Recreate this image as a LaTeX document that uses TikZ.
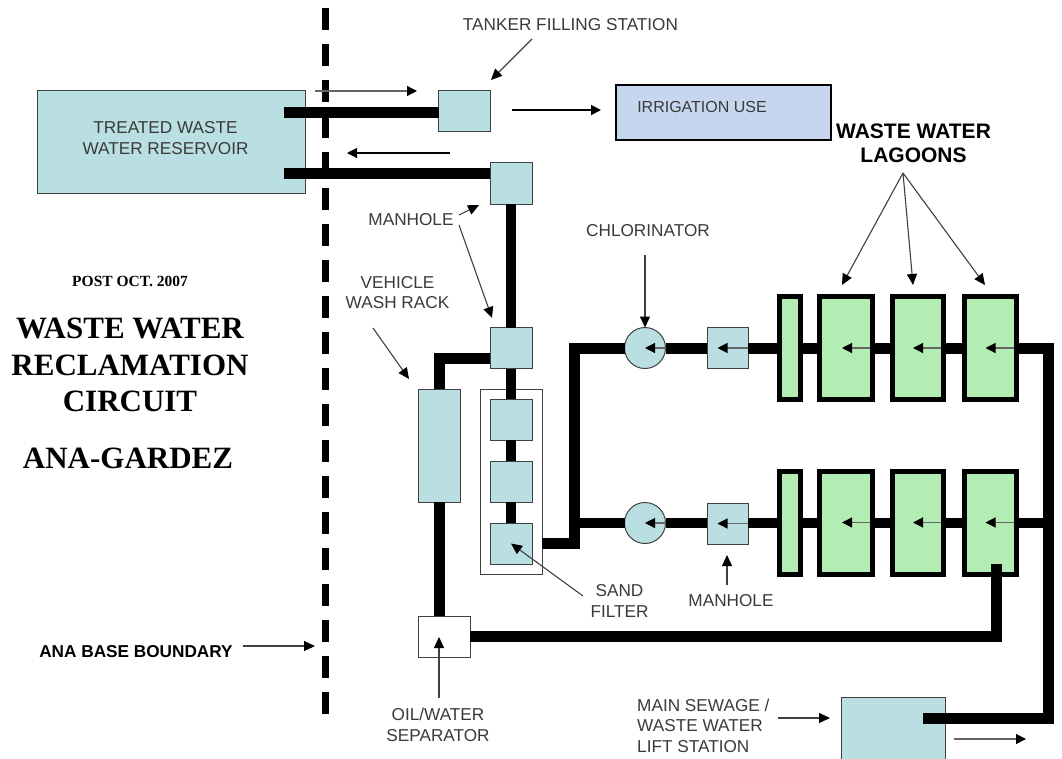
\documentclass[tikz,border=0pt]{standalone}
\usepackage{fontspec}
\setmainfont{Liberation Sans}
\newfontfamily\titlefont{Liberation Serif}
\usetikzlibrary{arrows.meta,calc}
\definecolor{tankfill}{HTML}{B9DFE2}
\definecolor{lagoonfill}{HTML}{B3EDB3}
\definecolor{irrigfill}{HTML}{C5D6EE}
\definecolor{labelgray}{HTML}{3A3A3A}
\tikzset{
  tank/.style={draw=black!75,line width=1pt,fill=tankfill,outer sep=0pt,inner sep=0pt},
  lagoon/.style={draw=black,line width=5pt,fill=lagoonfill,outer sep=0pt,inner sep=0pt,minimum height=103pt},
  pipe/.style={line width=11pt,black,line cap=butt,line join=miter},
  thinpipe/.style={line width=9.5pt,black,line cap=butt},
  flow/.style={line width=1.2pt,black!60,-{Triangle[length=10pt,width=10pt,black]}},
  callout/.style={line width=1.1pt,black!75,-{Triangle[length=11pt,width=10pt,black]}},
  lbl/.style={font=\fontsize{17.2}{20.5}\selectfont,text=labelgray,align=center,inner sep=0pt},
  bigtitle/.style={font=\fontsize{31}{36.3}\titlefont\bfseries,align=center,inner sep=0pt}
}
\begin{document}
\begin{tikzpicture}[x=1pt,y=-1pt]
  \useasboundingbox (0,0) rectangle (1062,758);
  \clip (0,0) rectangle (1062,758);
  \fill[white] (0,0) rectangle (1062,758);
  % boundary
  \draw[line width=7pt,black,dash pattern=on 22pt off 14pt] (325,8) -- (325,714);
  % tanks and boxes
  \node[tank,minimum width=268pt,minimum height=103pt] (reservoir) at (171,141.5) {};
  \node[tank,minimum width=52pt,minimum height=41.5pt] (tanker) at (464.5,111) {};
  \node[draw=black,line width=1.5pt,fill=irrigfill,minimum width=215pt,minimum height=55pt,outer sep=0pt] (irrigation) at (723.5,112.5) {};
  \node[tank,minimum width=42pt,minimum height=42pt] (mhTop) at (511,183) {};
  \node[tank,minimum width=42pt,minimum height=41pt] (mhMid) at (511,348) {};
  \node[draw=black!75,line width=0.7pt,fill=white,minimum width=62pt,minimum height=185pt,outer sep=0pt] (filterframe) at (511,481.5) {};
  \node[tank,minimum width=42pt,minimum height=41pt] (filterA) at (511,419.5) {};
  \node[tank,minimum width=42pt,minimum height=41pt] (filterB) at (511,481.5) {};
  \node[tank,minimum width=42pt,minimum height=41pt] (filterC) at (511,543.5) {};
  \node[tank,minimum width=42pt,minimum height=113pt] (washrack) at (439,445.5) {};
  \node[draw=black!75,line width=1pt,fill=white,minimum width=52pt,minimum height=41pt,outer sep=0pt] (separator) at (444,636.5) {};
  \node[tank,circle,minimum size=41pt] (chlorA) at (645,348) {};
  \node[tank,circle,minimum size=41pt] (chlorB) at (645,523) {};
  \node[tank,minimum width=41pt,minimum height=41pt] (mhA) at (727.5,348) {};
  \node[tank,minimum width=41pt,minimum height=41pt] (mhB) at (727.5,523.5) {};
  \node[tank,minimum width=104pt,minimum height=70pt] (liftstation) at (893,732) {};
  % lagoons
  \node[lagoon,minimum width=21pt] (pondA) at (789.5,348) {};
  \node[lagoon,minimum width=53pt] (lagoonA) at (846,348) {};
  \node[lagoon,minimum width=51pt] (lagoonB) at (918,348) {};
  \node[lagoon,minimum width=52pt] (lagoonC) at (990.5,348) {};
  \node[lagoon,minimum width=21pt] (pondB) at (789.5,522.5) {};
  \node[lagoon,minimum width=53pt] (lagoonD) at (846,522.5) {};
  \node[lagoon,minimum width=51pt] (lagoonE) at (918,522.5) {};
  \node[lagoon,minimum width=52pt] (lagoonF) at (990.5,522.5) {};
  % pipe ends
  \coordinate (resA) at (284,112);
  \coordinate (resB) at (284,173.5);
  \coordinate (mhMidL) at (490,358);
  \coordinate (frameOut) at (542,543);
  \coordinate (riserTop) at (574,348);
  \coordinate (riserBot) at (574,523);
  \coordinate (mainR) at (1048,348);
  \coordinate (mainM) at (1048,523);
  \coordinate (liftIn) at (923,718.5);
  \coordinate (lagoonIn) at (996,564);
  % pipes
  \draw[pipe] (resA) -- (resA -| tanker.west);
  \draw[pipe] (resB) -- (resB -| mhTop.west);
  \draw[pipe,line width=10pt] (mhTop.south) -- (mhMid.north);
  \draw[pipe,line width=10pt] (mhMid.south) -- (filterA.north);
  \draw[pipe,line width=10pt] (filterA.south) -- (filterB.north);
  \draw[pipe,line width=10pt] (filterB.south) -- (filterC.north);
  \draw[pipe] (mhMidL) -| (washrack.north);
  \draw[pipe] (washrack.south) -- (washrack.south |- separator.north);
  \draw[pipe] (frameOut -| filterframe.east) -| (riserTop) -- (chlorA.west);
  \draw[thinpipe] (riserBot) -- (chlorB.west);
  \draw[pipe] (chlorA.east) -- (mhA.west);
  \draw[pipe] (mhA.east) -- (pondA.west);
  \draw[pipe] (pondA.east) -- (lagoonA.west);
  \draw[pipe] (lagoonA.east) -- (lagoonB.west);
  \draw[pipe] (lagoonB.east) -- (lagoonC.west);
  \draw[thinpipe] (chlorB.east) -- (mhB.west |- chlorB.east);
  \draw[thinpipe] (mhB.east |- chlorB.east) -- (pondB.west |- chlorB.east);
  \draw[thinpipe] (pondB.east |- chlorB.east) -- (lagoonD.west |- chlorB.east);
  \draw[thinpipe] (lagoonD.east |- chlorB.east) -- (lagoonE.west |- chlorB.east);
  \draw[thinpipe] (lagoonE.east |- chlorB.east) -- (lagoonF.west |- chlorB.east);
  \draw[thinpipe] (lagoonF.east |- mainM) -- (mainM);
  \draw[pipe] (lagoonC.east) -- (mainR) -- (mainR |- liftIn) -- (liftIn);
  \draw[pipe] (separator.east |- 0,636) -| (lagoonIn);
  % small flow arrows
  \draw[flow] ([xshift=-3pt]lagoonA.east) -- ([xshift=-4pt]lagoonA.center);
  \draw[flow] ([xshift=-3pt]lagoonB.east) -- ([xshift=-5pt]lagoonB.center);
  \draw[flow] ([xshift=-3pt]lagoonC.east) -- ([xshift=-5pt]lagoonC.center);
  \draw[flow] ([xshift=-3pt]lagoonD.east) -- ([xshift=-4pt]lagoonD.center);
  \draw[flow] ([xshift=-3pt]lagoonE.east) -- ([xshift=-5pt]lagoonE.center);
  \draw[flow] ([xshift=-3pt]lagoonF.east) -- ([xshift=-5pt]lagoonF.center);
  \draw[flow] (mhA.east) -- ([xshift=-10pt]mhA.center);
  \draw[flow] (mhB.east) -- ([xshift=-10pt]mhB.center);
  \draw[flow] (chlorA.east) -- (chlorA.center);
  \draw[flow] (chlorB.east) -- (chlorB.center);
  % labels
  \node[lbl] (tReservoir) at (165.5,138) {TREATED WASTE\\WATER RESERVOIR};
  \node[lbl,font=\fontsize{16}{20}\selectfont] (tIrrigation) at (702,106.5) {IRRIGATION USE};
  \node[lbl] (tTanker) at (570.5,25) {TANKER FILLING STATION};
  \node[lbl] (tManholeA) at (411,220) {MANHOLE};
  \node[lbl] (tWash) at (397.5,292.5) {VEHICLE\\WASH RACK};
  \node[lbl] (tChlor) at (648,231) {CHLORINATOR};
  \node[lbl] (tSand) at (619.5,601) {SAND\\FILTER};
  \node[lbl] (tManholeB) at (731,601) {MANHOLE};
  \node[lbl] (tSep) at (438,725) {OIL/WATER\\SEPARATOR};
  \node[lbl,align=left,anchor=west] (tLift) at (637,725.5) {MAIN SEWAGE /\\WASTE WATER\\LIFT STATION};
  \node[lbl,font=\fontsize{21}{24}\selectfont\bfseries,text=black] (tLagoons) at (913.5,143) {WASTE WATER\\LAGOONS};
  \node[lbl,font=\fontsize{17.2}{20}\selectfont\bfseries,text=black] (tBoundary) at (136,652) {ANA BASE BOUNDARY};
  \node[lbl,font=\fontsize{15.5}{18}\titlefont\bfseries,text=black] (tPost) at (130,281) {POST OCT. 2007};
  \node[bigtitle] (tCircuit) at (130,365) {WASTE WATER\\RECLAMATION\\CIRCUIT};
  \node[bigtitle] (tAna) at (128,458) {ANA-GARDEZ};
  % callouts
  \coordinate (tipTanker) at (491,80);
  \coordinate (tipManholeA) at (479,205);
  \coordinate (tipManholeB) at (492,318);
  \coordinate (tipWash) at (409,379);
  \coordinate (tipLagoonA) at (842,285);
  \coordinate (tipLagoonB) at (913,285);
  \coordinate (tipLagoonC) at (985,285);
  \coordinate (fromLagoons) at (903,173);
  \coordinate (tipBoundary) at (315,646);
  \draw[callout] (532,39) -- (tipTanker);
  \draw[callout] (459,215) -- (tipManholeA);
  \draw[callout] (459,225) -- (tipManholeB);
  \draw[callout] (373,328) -- (tipWash);
  \draw[callout] (645,255) -- (chlorA.north);
  \draw[callout] (fromLagoons) -- (tipLagoonA);
  \draw[callout] (fromLagoons) -- (tipLagoonB);
  \draw[callout] (fromLagoons) -- (tipLagoonC);
  \draw[callout] (583,596) -- (filterC.center);
  \draw[callout] (727,585) -- (727,555);
  \draw[callout] (439,698) -- (439,637);
  \draw[callout] (243,646) -- (tipBoundary);
  \draw[callout] (778,718) -- (830,718);
  % flow arrows outside
  \draw[flow] (315,91) -- (417,91);
  \draw[flow,line width=1.8pt,black] (512,110) -- (601,110);
  \draw[flow,black] (450,153) -- (347,153);
  \draw[flow] (954,739) -- (1026,739);
\end{tikzpicture}
\end{document}
